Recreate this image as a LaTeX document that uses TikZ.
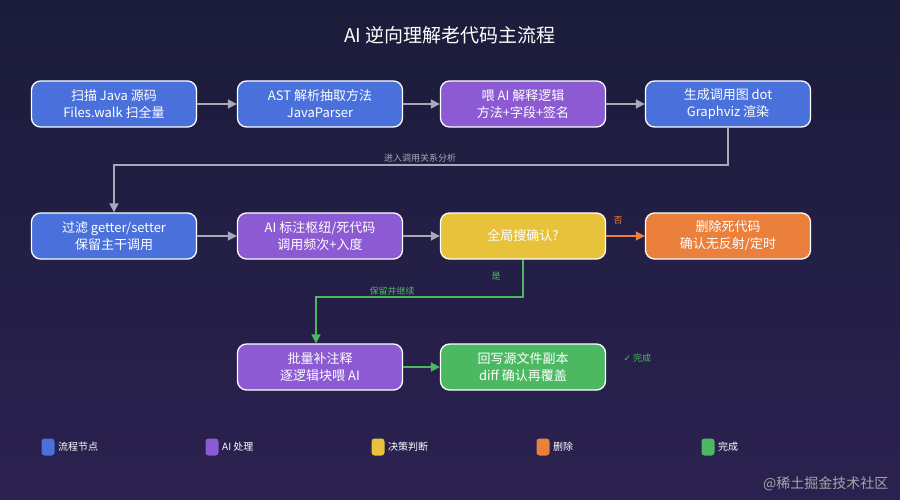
\documentclass[tikz,border=0pt]{standalone}
\usepackage{fontspec}
\setmainfont{Noto Sans CJK SC}
\newfontfamily\symfont{DejaVu Sans}
\usetikzlibrary{arrows.meta}
\definecolor{bgtop}{HTML}{1B1C3A}
\definecolor{bgbot}{HTML}{2B2150}
\definecolor{cblue}{HTML}{4A70DC}
\definecolor{cpurple}{HTML}{8C5AD2}
\definecolor{cyellow}{HTML}{E8C23A}
\definecolor{corange}{HTML}{EA803C}
\definecolor{cgreen}{HTML}{4CB862}
\definecolor{cgray}{HTML}{A8A8B8}
\begin{document}
\begin{tikzpicture}[x=1pt,y=-1pt,
  box/.style={draw=white,line width=1.3pt,rounded corners=9pt,minimum width=165pt,
    minimum height=46pt,text=white,align=center,font=\fontsize{13}{17}\selectfont,inner sep=2pt},
  flow/.style={draw=cgray,line width=1.6pt,-{Triangle[length=9pt,width=9pt]}},
  lbl/.style={font=\fontsize{9}{10}\selectfont},
  dot/.style={fill=#1,rounded corners=3pt,minimum width=13pt,minimum height=17pt,inner sep=0pt},
  leg/.style={right,text=white,font=\fontsize{10}{12}\selectfont}]
\shade[top color=bgtop,bottom color=bgbot] (0,0) rectangle (900,500);
\useasboundingbox (0,0) rectangle (900,500);
\node[text=white,font=\fontsize{19}{22}\selectfont] (title) at (450,35) {AI 逆向理解老代码主流程};
% row 1
\node[box,fill=cblue] (scan) at (114,104) {扫描 Java 源码\\Files.walk 扫全量};
\node[box,fill=cblue] (ast) at (320,104) {AST 解析抽取方法\\JavaParser};
\node[box,fill=cpurple] (feed) at (523,104) {喂 AI 解释逻辑\\方法+字段+签名};
\node[box,fill=cblue] (graph) at (728,104) {生成调用图 dot\\Graphviz 渲染};
% row 2
\node[box,fill=cblue] (filter) at (114,236) {过滤 getter/setter\\保留主干调用};
\node[box,fill=cpurple] (mark) at (320,236) {AI 标注枢纽/死代码\\调用频次+入度};
\node[box,fill=cyellow] (check) at (523,236) {全局搜确认?};
\node[box,fill=corange] (del) at (728,236) {删除死代码\\确认无反射/定时};
% row 3
\node[box,fill=cpurple] (batch) at (320,367) {批量补注释\\逐逻辑块喂 AI};
\node[box,fill=cgreen] (write) at (523,367) {回写源文件副本\\diff 确认再覆盖};
\coordinate (c1) at (728,165);
\coordinate (c2) at (114,165);
\coordinate (c3) at (523,297);
\coordinate (c4) at (316,297);
\draw[flow] (scan) -- (ast);
\draw[flow] (ast) -- (feed);
\draw[flow] (feed) -- (graph);
\draw[flow] (graph.south) -- (c1) -- (c2) -- (filter.north);
\node[lbl,text=cgray] (l1) at (420,158) {进入调用关系分析};
\draw[flow] (filter) -- (mark);
\draw[flow] (mark) -- (check);
\draw[flow,draw=corange] (check) -- (del);
\node[lbl,text=corange] (lno) at (618,220) {否};
\draw[flow,draw=cgreen] (check.south) -- (c3) -- (c4) -- (batch.north west -| c4);
\node[lbl,text=cgreen] (lyes) at (496,276) {是};
\node[lbl,text=cgreen] (lkeep) at (392,291) {保留并继续};
\draw[flow,draw=cgreen] (batch) -- (write);
\node[lbl,text=cgreen,anchor=west] (ldone) at (620,358) {{\symfont ✓} 完成};
% legend
\foreach \x/\c/\t [count=\i] in {48/cblue/流程节点,212/cpurple/AI 处理,378/cyellow/决策判断,543/corange/删除/异常,708/cgreen/完成/通过}{
  \node[dot=\c] (d\i) at (\x,447) {};
  \node[leg] (t\i) at (d\i.east) {\t};
}
\node[anchor=east,text=gray!70,font=\fontsize{14}{16}\selectfont] (wm) at (892,484) {@稀土掘金技术社区};
\end{tikzpicture}
\end{document}
